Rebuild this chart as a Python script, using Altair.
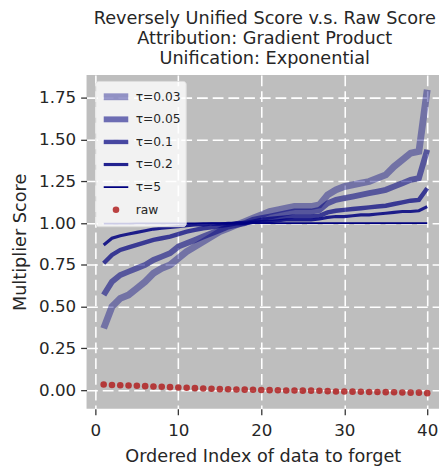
import altair as alt
import pandas as pd

idx = list(range(1, 41))

tau_003 = [0.37, 0.50, 0.55, 0.57, 0.61, 0.65, 0.70, 0.73, 0.75, 0.79,
           0.83, 0.86, 0.89, 0.92, 0.95, 0.97, 0.99, 1.01, 1.03, 1.05,
           1.07, 1.08, 1.09, 1.10, 1.10, 1.10, 1.11, 1.17, 1.20, 1.22,
           1.23, 1.24, 1.25, 1.27, 1.29, 1.34, 1.38, 1.42, 1.43, 1.80]
tau_005 = [0.57, 0.65, 0.69, 0.71, 0.73, 0.75, 0.78, 0.80, 0.82, 0.86,
           0.88, 0.90, 0.92, 0.94, 0.96, 0.98, 0.99, 1.00, 1.02, 1.03,
           1.04, 1.05, 1.06, 1.07, 1.07, 1.07, 1.08, 1.12, 1.14, 1.15,
           1.16, 1.17, 1.18, 1.19, 1.20, 1.22, 1.24, 1.26, 1.27, 1.44]
tau_01 = [0.76, 0.81, 0.84, 0.855, 0.87, 0.885, 0.90, 0.91, 0.92, 0.935,
          0.95, 0.96, 0.97, 0.975, 0.985, 0.99, 1.00, 1.00, 1.01, 1.02,
          1.025, 1.03, 1.035, 1.04, 1.04, 1.04, 1.045, 1.065, 1.075, 1.08,
          1.085, 1.09, 1.095, 1.10, 1.105, 1.115, 1.125, 1.135, 1.14, 1.21]
tau_02 = [0.87, 0.91, 0.925, 0.935, 0.945, 0.955, 0.965, 0.97, 0.975, 0.98,
          0.985, 0.99, 0.99, 0.995, 0.995, 1.00, 1.00, 1.00, 1.005, 1.01,
          1.01, 1.015, 1.02, 1.02, 1.02, 1.02, 1.025, 1.035, 1.04, 1.04,
          1.045, 1.05, 1.05, 1.055, 1.06, 1.065, 1.07, 1.07, 1.075, 1.10]
tau_5 = [0.998, 0.998, 0.998, 0.998, 0.999, 0.999, 0.999, 0.999, 0.999, 0.999,
         0.999, 0.999, 1.000, 1.000, 1.000, 1.000, 1.000, 1.000, 1.000, 1.000,
         1.000, 1.000, 1.000, 1.000, 1.000, 1.000, 1.000, 1.000, 1.000, 1.001,
         1.001, 1.001, 1.001, 1.001, 1.001, 1.001, 1.001, 1.001, 1.001, 1.001]
raw = [0.034, 0.031, 0.029, 0.028, 0.026, 0.024, 0.022, 0.020, 0.018, 0.016,
       0.014, 0.012, 0.010, 0.008, 0.006, 0.005, 0.004, 0.003, 0.002, 0.001,
       0.000, -0.001, -0.002, -0.002, -0.003, -0.003, -0.004, -0.006, -0.008, -0.008,
       -0.009, -0.010, -0.011, -0.011, -0.012, -0.013, -0.014, -0.015, -0.015, -0.018]

series_names = ["τ=0.03", "τ=0.05", "τ=0.1", "τ=0.2", "τ=5", "raw"]
line_series = [tau_003, tau_005, tau_01, tau_02, tau_5]

rows = []
for name, vals in zip(series_names[:5], line_series):
    for i, v in zip(idx, vals):
        rows.append({"idx": i, "val": v, "s": name})
df_lines = pd.DataFrame(rows)
df_raw = pd.DataFrame({"idx": idx, "val": raw, "s": ["raw"] * len(idx)})

color_scale = alt.Scale(type="ordinal", domain=series_names,
                        range=["#000080"] * 5 + ["#b22222"])
opacity_scale = alt.Scale(type="ordinal", domain=series_names,
                          range=[0.4, 0.55, 0.7, 0.85, 1.0, 0.85])
width_scale = alt.Scale(type="ordinal", domain=series_names,
                        range=[7, 6, 4.5, 3.2, 1.8, 0])
shape_scale = alt.Scale(type="ordinal", domain=series_names,
                        range=["stroke"] * 5 + ["circle"])
size_scale = alt.Scale(type="ordinal", domain=series_names,
                       range=[625] * 5 + [45])

leg = alt.Legend(title=None, orient="none", legendX=9, legendY=6,
                 fillColor="rgba(255,255,255,0.8)", strokeColor="#dddddd",
                 cornerRadius=3, padding=5, labelFont="DejaVu Sans",
                 labelFontSize=12.5, labelColor="#262626", labelOffset=4,
                 rowPadding=0, clipHeight=22.3)

x_enc = alt.X("idx:Q", scale=alt.Scale(domain=[-1.065, 41.42], nice=False, zero=False),
              axis=alt.Axis(values=[0, 10, 20, 30, 40], format="d",
                            title="Ordered Index of data to forget",
                            labelPadding=8, titlePadding=10))
y_enc = alt.Y("val:Q", scale=alt.Scale(domain=[-0.112, 1.888], nice=False, zero=False),
              axis=alt.Axis(values=[0, 0.25, 0.5, 0.75, 1.0, 1.25, 1.5, 1.75],
                            format=".2f", title="Multiplier Score",
                            labelPadding=5, titlePadding=9))

lines = alt.Chart(df_lines).mark_line().encode(
    x=x_enc, y=y_enc,
    color=alt.Color("s:N", scale=color_scale, legend=leg),
    opacity=alt.Opacity("s:N", scale=opacity_scale, legend=leg),
    strokeWidth=alt.StrokeWidth("s:N", scale=width_scale, legend=leg),
)

points = alt.Chart(df_raw).mark_point(filled=True, opacity=0.85).encode(
    x=x_enc, y=y_enc,
    color=alt.Color("s:N", scale=color_scale, legend=leg),
    shape=alt.Shape("s:N", scale=shape_scale, legend=leg),
    size=alt.Size("s:N", scale=size_scale, legend=leg),
)

chart = alt.layer(lines, points).properties(
    width=359, height=340,
    autosize="none",
    padding={"left": 80, "top": 64, "right": 0, "bottom": 56},
    title=alt.TitleParams(
        text=["Reversely Unified Score v.s. Raw Score",
              "Attribution: Gradient Product",
              "Unification: Exponential"],
        font="DejaVu Sans", fontSize=18, fontWeight="normal",
        color="#262626", lineHeight=20.5, anchor="middle", offset=7, dx=2),
).configure_view(
    fill="#bebebe", stroke=None
).configure_axis(
    grid=True, gridColor="white", gridDash=[11, 5], gridWidth=1.6,
    domain=False, tickColor="#333333", tickWidth=1.3, tickSize=6,
    labelFont="DejaVu Sans", labelFontSize=17, labelColor="#262626",
    titleFont="DejaVu Sans", titleFontSize=18, titleFontWeight="normal",
    titleColor="#262626"
)

chart.save("out.html", embed_options={"renderer": "svg", "actions": False})
